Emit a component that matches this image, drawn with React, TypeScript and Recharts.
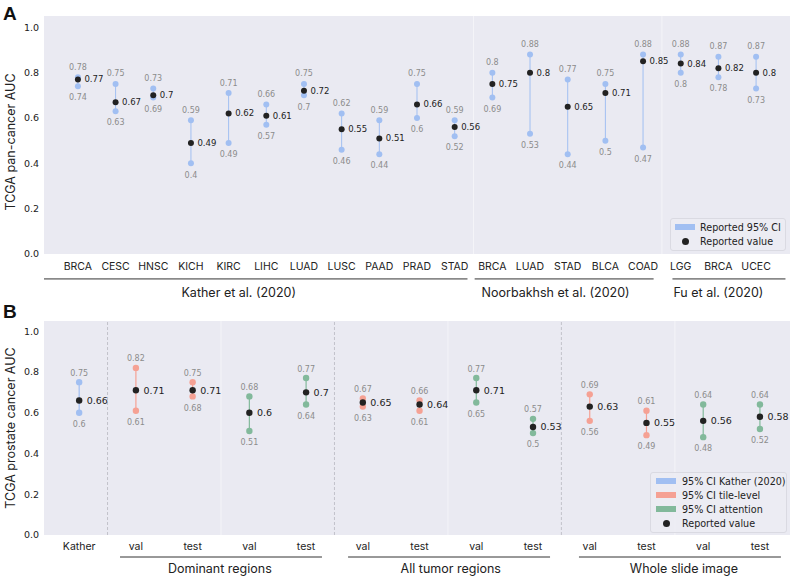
import React from "react";
import {
    ComposedChart,
    Scatter,
    XAxis,
    YAxis,
    ZAxis,
    CartesianGrid,
    ReferenceLine,
    ReferenceDot,
    LabelList,
} from "recharts";

const BLUE = "#a1bff2";
const RED = "#f5a194";
const GREEN = "#82b99b";
const DARK = "#222222";
const GREY_TXT = "#8c8c8c";

// Panel A: TCGA pan-cancer
const aCats = [
    "BRCA", "CESC", "HNSC", "KICH", "KIRC", "LIHC", "LUAD", "LUSC", "PAAD", "PRAD", "STAD",
    "BRCA", "LUAD", "STAD", "BLCA", "COAD",
    "LGG", "BRCA", "UCEC",
];
const aVal = [0.77, 0.67, 0.7, 0.49, 0.62, 0.61, 0.72, 0.55, 0.51, 0.66, 0.56, 0.75, 0.8, 0.65, 0.71, 0.85, 0.84, 0.82, 0.8];
const aLo = [0.74, 0.63, 0.69, 0.4, 0.49, 0.57, 0.7, 0.46, 0.44, 0.6, 0.52, 0.69, 0.53, 0.44, 0.5, 0.47, 0.8, 0.78, 0.73];
const aHi = [0.78, 0.75, 0.73, 0.59, 0.71, 0.66, 0.75, 0.62, 0.59, 0.75, 0.59, 0.8, 0.88, 0.77, 0.75, 0.88, 0.88, 0.87, 0.87];
const aGroups = [
    { name: "Kather et al. (2020)", from: -0.9, to: 10.34, mid: 4.27 },
    { name: "Noorbakhsh et al. (2020)", from: 10.53, to: 15.28, mid: 12.68 },
    { name: "Fu et al. (2020)", from: 15.78, to: 18.78, mid: 17.0 },
];
const aSolidSeps = [10.5, 15.5];

// Panel B: TCGA prostate
const bCats = ["Kather", "val", "test", "val", "test", "val", "test", "val", "test", "val", "test", "val", "test"];
const bVal = [0.66, 0.71, 0.71, 0.6, 0.7, 0.65, 0.64, 0.71, 0.53, 0.63, 0.55, 0.56, 0.58];
const bLo = [0.6, 0.61, 0.68, 0.51, 0.64, 0.63, 0.61, 0.65, 0.5, 0.56, 0.49, 0.48, 0.52];
const bHi = [0.75, 0.82, 0.75, 0.68, 0.77, 0.67, 0.66, 0.77, 0.57, 0.69, 0.61, 0.64, 0.64];
const bKind = ["kather", "tile", "tile", "att", "att", "tile", "tile", "att", "att", "tile", "tile", "att", "att"];
const bGroups = [
    { name: "Dominant regions", from: 0.72, to: 4.28, mid: 2.48 },
    { name: "All tumor regions", from: 4.74, to: 8.3, mid: 6.55 },
    { name: "Whole slide image", from: 8.81, to: 12.37, mid: 10.66 },
];
const bDashedSeps = [0.5, 4.5, 8.5];
const bSolidSeps = [2.5, 6.5, 10.5];

const yTicks = [0, 0.2, 0.4, 0.6, 0.8, 1.0];
const kindColor: Record<string, string> = { kather: BLUE, tile: RED, att: GREEN };

const aRows = aCats.map((c, i) => ({ x: i, lo: aLo[i], hi: aHi[i], val: aVal[i], color: BLUE }));
const bRows = bCats.map((c, i) => ({ x: i, lo: bLo[i], hi: bHi[i], val: bVal[i], color: kindColor[bKind[i]] }));

const Panel = (p: any) => {
    const { rows, cats } = p;
    const hiPts = rows.map((r: any) => ({ x: r.x, y: r.hi, color: r.color }));
    const loPts = rows.map((r: any) => ({ x: r.x, y: r.lo, color: r.color }));
    const valPts = rows.map((r: any) => ({ x: r.x, y: r.val, color: DARK }));
    const dot = (props: any) => (
        <circle cx={props.cx} cy={props.cy} r={p.dotR} fill={props.payload.color} />
    );
    const ciLabel = { fill: GREY_TXT, fontSize: p.ciFont, fontFamily: "DejaVu Sans" };

    return (
        <div style={{ position: "absolute", left: 0, top: p.top }}>
            <ComposedChart
                width={794}
                height={p.height}
                margin={{ top: p.marginTop, right: 4, left: 0, bottom: 0 }}
            >
                <CartesianGrid fill="#eaeaf2" stroke="none" horizontal={false} vertical={false} />
                <XAxis
                    type="number"
                    dataKey="x"
                    domain={p.xDomain}
                    allowDataOverflow
                    ticks={rows.map((r: any) => r.x)}
                    interval={0}
                    tickFormatter={(i: number) => cats[i]}
                    axisLine={false}
                    tickLine={false}
                    tickSize={0}
                    tickMargin={p.xTickMargin}
                    height={p.xAxisHeight}
                    tick={{ fontSize: 10.5, fill: DARK, fontFamily: "Inter" }}
                />
                <YAxis
                    type="number"
                    dataKey="y"
                    domain={[0, 1.05]}
                    allowDataOverflow
                    ticks={yTicks}
                    tickFormatter={(v: number) => v.toFixed(1)}
                    axisLine={false}
                    tickLine={false}
                    tickSize={0}
                    tickMargin={5}
                    width={44}
                    tick={{ fontSize: 9.5, fill: DARK, fontFamily: "DejaVu Sans" }}
                />
                <ZAxis range={[28, 28]} />

                {p.solidSeps.map((s: number) => (
                    <ReferenceLine key={"s" + s} x={s} stroke="#f4f4f8" strokeWidth={1} />
                ))}
                {(p.dashedSeps || []).map((s: number) => (
                    <ReferenceLine key={"d" + s} x={s} stroke="#c2c2ca" strokeWidth={1} strokeDasharray="3 2" />
                ))}

                {/* confidence interval segments */}
                {rows.map((r: any) => (
                    <ReferenceLine
                        key={"ci" + r.x}
                        segment={[{ x: r.x, y: r.lo }, { x: r.x, y: r.hi }]}
                        stroke={r.color}
                        strokeWidth={p.lineW}
                    />
                ))}

                <Scatter data={hiPts} shape={dot} isAnimationActive={false}>
                    <LabelList dataKey="y" position="top" offset={p.hiOffset} {...ciLabel} />
                </Scatter>
                <Scatter data={loPts} shape={dot} isAnimationActive={false}>
                    <LabelList dataKey="y" position="bottom" offset={p.loOffset} {...ciLabel} />
                </Scatter>
                <Scatter data={valPts} shape={dot} isAnimationActive={false}>
                    <LabelList
                        dataKey="y"
                        position="right"
                        offset={p.valOffset}
                        fill={DARK}
                        fontSize={p.valFont}
                        fontFamily="DejaVu Sans"
                    />
                </Scatter>

                {/* group underlines and names below the axis */}
                {p.groups.map((g: any) => (
                    <ReferenceLine
                        key={"g" + g.name}
                        segment={[{ x: g.from, y: p.groupY }, { x: g.to, y: p.groupY }]}
                        stroke="#333"
                        strokeWidth={1}
                        ifOverflow="visible"
                    />
                ))}
                {p.groups.map((g: any) => (
                    <ReferenceDot
                        key={"gl" + g.name}
                        x={g.mid}
                        y={p.groupLabelY}
                        r={1}
                        fill="none"
                        stroke="none"
                        ifOverflow="visible"
                        label={{ value: g.name, position: "center", fill: DARK, fontSize: 12.5, fontFamily: "Inter" }}
                    />
                ))}
            </ComposedChart>
        </div>
    );
};

const LegendBox = ({ items, left, top, width, textLeft }: any) => (
    <div
        style={{
            position: "absolute",
            left,
            top,
            width,
            boxSizing: "border-box",
            background: "rgba(236,236,243,0.85)",
            border: "1px solid #dadae2",
            borderRadius: 3,
            padding: "1px 0 2px 3px",
            fontFamily: "DejaVu Sans",
            fontSize: 9.6,
            color: DARK,
        }}
    >
        {items.map((it: any) => (
            <div key={it.label} style={{ display: "flex", alignItems: "center", height: 14 }}>
                <span style={{ width: textLeft, display: "inline-flex", justifyContent: "center", flexShrink: 0 }}>
                    {it.kind === "patch" ? (
                        <span style={{ width: 20, height: 6, background: it.color, marginLeft: -4 }} />
                    ) : (
                        <span style={{ width: 7, height: 7, borderRadius: "50%", background: DARK, marginLeft: -4 }} />
                    )}
                </span>
                <span style={{ whiteSpace: "nowrap" }}>{it.label}</span>
            </div>
        ))}
    </div>
);

const letterStyle: any = {
    position: "absolute",
    left: 3,
    fontFamily: "Liberation Sans",
    fontWeight: 700,
    fontSize: 19,
    lineHeight: "19px",
    color: "#111",
};

const yLabelStyle = (cy: number): any => ({
    position: "absolute",
    left: 10,
    top: cy,
    transform: "translate(-50%, -50%) rotate(-90deg)",
    whiteSpace: "nowrap",
    fontFamily: "Inter",
    fontSize: 12.5,
    color: DARK,
});

export default function App() {
    return (
        <div style={{ position: "absolute", left: 0, top: 0, width: 794, height: 578, background: "#fff", overflow: "hidden" }}>
            <Panel
                top={0}
                height={300}
                marginTop={16}
                xAxisHeight={46}
                xTickMargin={9}
                rows={aRows}
                cats={aCats}
                xDomain={[-0.9, 18.9]}
                groups={aGroups}
                groupY={-0.11}
                groupLabelY={-0.168}
                solidSeps={aSolidSeps}
                dotR={3}
                lineW={1}
                ciFont={8}
                valFont={8.5}
                hiOffset={3}
                loOffset={4}
                valOffset={2}
            />
            <Panel
                top={290}
                height={288}
                marginTop={31}
                xAxisHeight={43}
                xTickMargin={8}
                rows={bRows}
                cats={bCats}
                xDomain={[-0.62, 12.53]}
                groups={bGroups}
                groupY={-0.108}
                groupLabelY={-0.167}
                solidSeps={bSolidSeps}
                dashedSeps={bDashedSeps}
                dotR={3.2}
                lineW={1.2}
                ciFont={8}
                valFont={9.5}
                hiOffset={2}
                loOffset={4}
                valOffset={3}
            />

            <div style={{ ...letterStyle, top: 4 }}>A</div>
            <div style={{ ...letterStyle, top: 302 }}>B</div>
            <div style={yLabelStyle(142)}>TCGA pan-cancer AUC</div>
            <div style={yLabelStyle(428)}>TCGA prostate cancer AUC</div>

            <LegendBox
                left={670}
                top={218}
                width={116}
                textLeft={26}
                items={[
                    { kind: "patch", color: BLUE, label: "Reported 95% CI" },
                    { kind: "dot", label: "Reported value" },
                ]}
            />
            <LegendBox
                left={650}
                top={472}
                width={137}
                textLeft={28}
                items={[
                    { kind: "patch", color: BLUE, label: "95% CI Kather (2020)" },
                    { kind: "patch", color: RED, label: "95% CI tile-level" },
                    { kind: "patch", color: GREEN, label: "95% CI attention" },
                    { kind: "dot", label: "Reported value" },
                ]}
            />
        </div>
    );
}
